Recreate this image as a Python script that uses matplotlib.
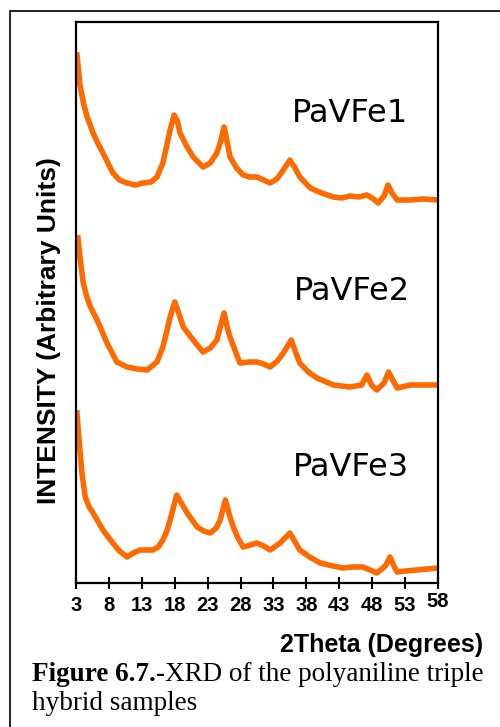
import numpy as np
import matplotlib
matplotlib.use("Agg")
import matplotlib.pyplot as plt
from matplotlib.patches import Rectangle
from matplotlib.transforms import ScaledTranslation

W, H = 500, 727

# 2theta (deg) and intensity (arbitrary units)
theta1 = [3.15, 3.6, 4.2, 4.7, 5.6, 6.3, 7.1, 8.0, 8.6, 9.6, 10.75, 12.0, 13.2, 14.4, 15.3,
          16.2, 16.8, 17.3, 17.9, 18.4, 18.8, 19.8, 20.8, 22.3, 23.4, 24.4, 25.0, 25.5,
          26.0, 26.4, 27.4, 28.4, 29.4, 30.5, 31.5, 32.5, 33.5, 34.3, 35.5, 36.2, 37.0,
          38.6, 40.3, 42.1, 43.4, 44.6, 46.0, 47.2, 48.2, 48.9, 49.8, 50.4, 51.0, 51.8,
          53.8, 55.7, 58.0]
inten1 = [528, 498, 478, 466, 450, 440, 430, 418, 410, 403, 400, 398, 400, 401, 406,
          420, 438, 453, 468, 462, 450, 437, 426, 416, 420, 430, 442, 456,
          440, 426, 415, 408, 406, 406, 403, 400, 404, 411, 423, 416, 406,
          395, 390, 386, 385, 387, 386, 388, 384, 380, 387, 398, 390, 383,
          383, 384, 383]

theta2 = [3.3, 3.6, 4.1, 4.6, 5.2, 6.2, 7.0, 7.7, 8.5, 9.2, 10.75, 12.3, 13.8, 15.3,
          16.2, 16.8, 17.3, 18.0, 18.6, 19.3, 20.8, 22.3, 23.4, 24.4, 25.0, 25.5, 26.0,
          26.4, 27.2, 27.9, 29.4, 30.5, 31.5, 32.5, 33.6, 34.5, 35.7, 36.3, 37.0,
          38.3, 39.6, 42.1, 44.6, 46.4, 47.2, 47.9, 48.7, 49.8, 50.5, 51.2, 51.8,
          53.8, 55.8, 58.0]
inten2 = [345, 326, 300, 287, 276, 263, 251, 240, 230, 221, 216, 214, 213, 221,
          236, 252, 266, 281, 270, 256, 243, 231, 235, 243, 258, 270, 255,
          246, 232, 220, 221, 221, 219, 216, 222, 230, 243, 232, 220,
          211, 205, 198, 196, 198, 208, 198, 193, 200, 211, 202, 195,
          198, 198, 198]

theta3 = [3.15, 3.5, 3.9, 4.4, 5.0, 5.6, 6.3, 7.1, 8.0, 8.6, 9.6, 10.75, 11.7, 12.7,
          14.7, 15.5, 16.2, 16.8, 17.3, 18.3, 19.0, 19.9, 21.4, 22.4, 23.4, 24.3, 24.9,
          25.7, 26.3, 26.9, 27.6, 28.4, 29.5, 30.5, 31.5, 32.5, 34.0, 35.5, 36.2, 37.0,
          38.5, 40.1, 42.0, 43.6, 45.0, 46.6, 47.7, 48.7, 50.0, 50.7, 51.3, 51.8, 53.0,
          54.8, 58.0]
inten3 = [170, 140, 110, 86, 76, 70, 62, 53, 45, 40, 32, 26, 30, 33,
          33, 36, 43, 52, 63, 88, 80, 70, 56, 52, 50, 55, 63,
          83, 68, 56, 45, 36, 38, 40, 37, 33, 40, 50, 42, 33,
          26, 20, 17, 15, 16, 16, 13, 10, 17, 26, 17, 11, 12,
          13, 15]

samples = ["PaVFe1", "PaVFe2", "PaVFe3"]
xticks = list(range(3, 59, 5))

orange = "#ff6a00"

fig = plt.figure(figsize=(W / 100, H / 100), dpi=100)

def fx(px):
    return px / W

def fy(py):
    return 1 - py / H

# outer frame (only left/top visible in the original)
fig.patches.append(Rectangle((fx(10), fy(760)), 1.2, fy(11) - fy(760), fill=False,
                             edgecolor="black", linewidth=1.2, transform=fig.transFigure))

ax = fig.add_axes([fx(76), fy(583), fx(438) - fx(76), fy(22) - fy(583)])

for th, it in [(theta1, inten1), (theta2, inten2), (theta3, inten3)]:
    ax.plot(th, it, color=orange, linewidth=4, solid_joinstyle="round")

ax.set_xlim(3, 58)
ax.set_ylim(0, 561)
ax.set_yticks([])
ax.set_xticks(xticks)
ax.set_xticklabels([str(t) for t in xticks], fontfamily="Liberation Sans",
                   fontweight="bold", fontsize=14.5)
ax.tick_params(axis="x", direction="inout", length=9, width=1.5, pad=5)
for s in ax.spines.values():
    s.set_linewidth(1.6)

# the 58 label sits a bit higher
lab = ax.get_xticklabels()[-1]
lab.set_transform(lab.get_transform() + ScaledTranslation(0, 3 / 72, fig.dpi_scale_trans))

label_pos = [(350, 114), (352, 292), (351, 468)]
for name, (px, py) in zip(samples, label_pos):
    fig.text(fx(px), fy(py), name, ha="center", va="center", fontsize=23,
             fontfamily="DejaVu Sans", color="black")

fig.text(fx(49), fy(331), "INTENSITY (Arbitrary Units)", rotation=90, ha="center",
         va="center", fontfamily="Liberation Sans", fontweight="bold", fontsize=19)
fig.text(fx(483), fy(645), "2Theta (Degrees)", ha="right", va="center",
         fontfamily="Liberation Sans", fontweight="bold", fontsize=18)

# caption, bold prefix then normal text
cap_size = 19.5
t1 = fig.text(fx(32), fy(681), "Figure 6.7.-", ha="left", va="baseline",
              fontfamily="Liberation Serif", fontweight="bold", fontsize=cap_size)
fig.canvas.draw()
bb = t1.get_window_extent()
fig.text(bb.x1 / W, fy(681), "XRD of the polyaniline triple", ha="left", va="baseline",
         fontfamily="Liberation Serif", fontsize=cap_size)
fig.text(fx(32), fy(710), "hybrid samples", ha="left", va="baseline",
         fontfamily="Liberation Serif", fontsize=cap_size)

fig.savefig("out.png", dpi=100)
